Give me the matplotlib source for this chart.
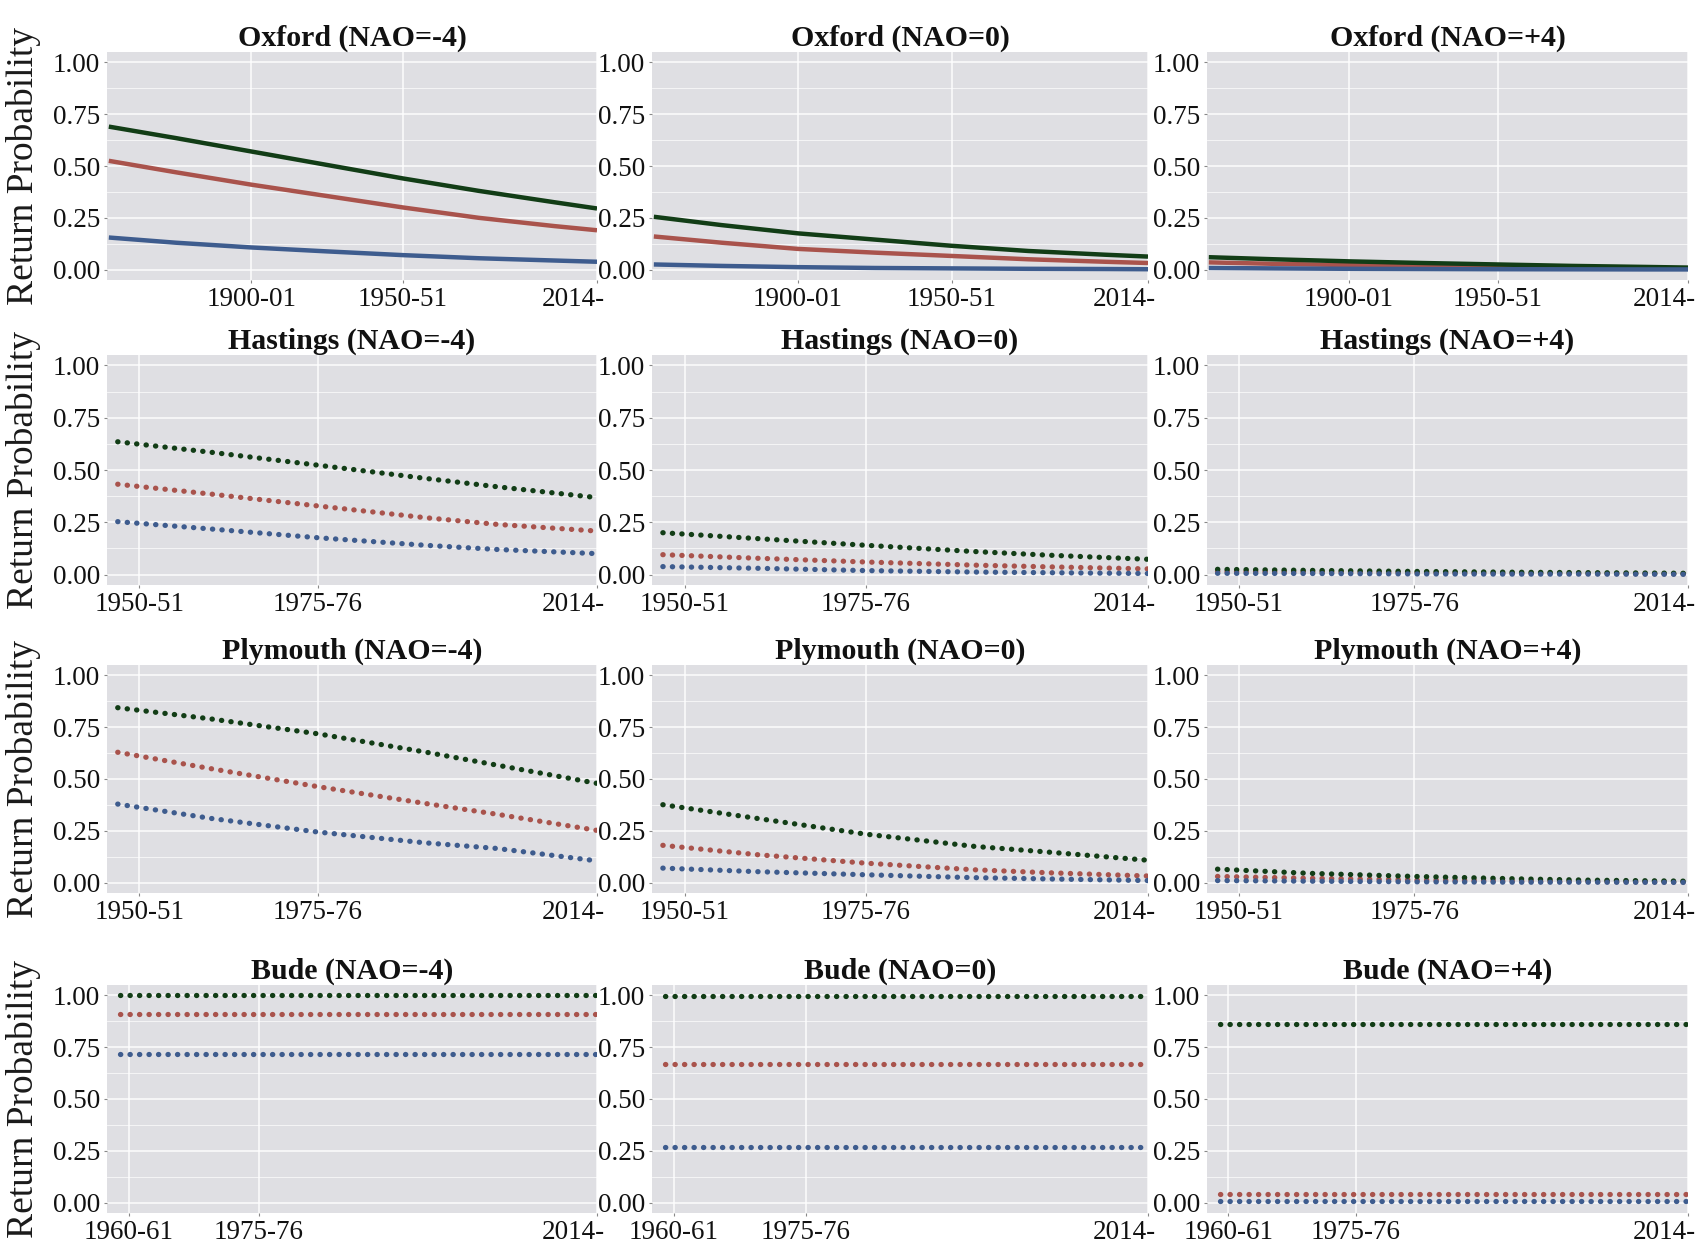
import matplotlib.pyplot as plt
import matplotlib.transforms as mtransforms
from matplotlib.ticker import MultipleLocator

plt.rcParams['font.family'] = ['Liberation Serif', 'DejaVu Serif']

W, H = 1705, 1247

# ---- data ----
nao_levels = ['-4', '0', '+4']
stations = ['Oxford', 'Hastings', 'Plymouth', 'Bude']

oxford_years = [1853, 1875, 1900, 1925, 1950, 1975, 2000, 2014]
oxford_m4_green = [0.69, 0.635, 0.57, 0.505, 0.44, 0.38, 0.325, 0.295]
oxford_m4_red = [0.525, 0.47, 0.41, 0.355, 0.30, 0.25, 0.21, 0.19]
oxford_m4_blue = [0.155, 0.13, 0.107, 0.088, 0.07, 0.055, 0.044, 0.038]
oxford_0_green = [0.255, 0.215, 0.175, 0.145, 0.115, 0.09, 0.072, 0.063]
oxford_0_red = [0.16, 0.13, 0.10, 0.082, 0.066, 0.05, 0.038, 0.032]
oxford_0_blue = [0.025, 0.018, 0.012, 0.008, 0.006, 0.004, 0.003, 0.002]
oxford_p4_green = [0.06, 0.05, 0.04, 0.032, 0.025, 0.018, 0.013, 0.01]
oxford_p4_red = [0.035, 0.028, 0.022, 0.017, 0.013, 0.009, 0.006, 0.005]
oxford_p4_blue = [0.008, 0.006, 0.004, 0.003, 0.002, 0.0015, 0.001, 0.001]

coast_years = [1947, 1960, 1975, 1990, 2000, 2014]
hastings_m4_green = [0.635, 0.585, 0.523, 0.46, 0.42, 0.368]
hastings_m4_red = [0.432, 0.385, 0.328, 0.272, 0.24, 0.208]
hastings_m4_blue = [0.253, 0.218, 0.176, 0.14, 0.12, 0.10]
hastings_0_green = [0.20, 0.172, 0.14, 0.11, 0.093, 0.073]
hastings_0_red = [0.095, 0.078, 0.06, 0.045, 0.037, 0.027]
hastings_0_blue = [0.038, 0.03, 0.019, 0.012, 0.009, 0.005]
hastings_p4_green = [0.025, 0.02, 0.015, 0.011, 0.009, 0.006]
hastings_p4_red = [0.015, 0.012, 0.009, 0.006, 0.005, 0.003]
hastings_p4_blue = [0.006, 0.005, 0.003, 0.002, 0.002, 0.001]

plymouth_m4_green = [0.844, 0.79, 0.718, 0.63, 0.567, 0.479]
plymouth_m4_red = [0.629, 0.55, 0.463, 0.382, 0.33, 0.252]
plymouth_m4_blue = [0.379, 0.31, 0.244, 0.192, 0.165, 0.105]
plymouth_0_green = [0.376, 0.31, 0.234, 0.175, 0.148, 0.108]
plymouth_0_red = [0.18, 0.135, 0.094, 0.062, 0.048, 0.032]
plymouth_0_blue = [0.07, 0.053, 0.038, 0.024, 0.018, 0.01]
plymouth_p4_green = [0.065, 0.045, 0.03, 0.018, 0.012, 0.007]
plymouth_p4_red = [0.03, 0.021, 0.013, 0.008, 0.005, 0.003]
plymouth_p4_blue = [0.01, 0.007, 0.004, 0.002, 0.002, 0.001]

bude_years = [1959, 2014]
bude_m4_green = [1.0, 1.0]
bude_m4_red = [0.91, 0.91]
bude_m4_blue = [0.715, 0.715]
bude_0_green = [0.995, 0.995]
bude_0_red = [0.667, 0.667]
bude_0_blue = [0.268, 0.268]
bude_p4_green = [0.86, 0.86]
bude_p4_red = [0.042, 0.042]
bude_p4_blue = [0.008, 0.008]

oxford_ticks = [1900, 1950, 2014]
oxford_ticklabels = ['1900-01', '1950-51', '2014-']
coast_ticks = [1950, 1975, 2014]
coast_ticklabels = ['1950-51', '1975-76', '2014-']
bude_ticks = [1960, 1975, 2014]
bude_ticklabels = ['1960-61', '1975-76', '2014-']

# ---- panel layout (pixels) ----
col_left = [107, 652, 1207]
col_right = [597, 1148, 1688]
row_top = [52, 355, 665, 985]
row_bot = [280, 585, 893, 1213]

green = '#123d16'
red = '#a9534c'
blue = '#3e5c8e'

station_info = {
    'Oxford': (oxford_years, (1852.4, 2014), oxford_ticks, oxford_ticklabels, '-',
               [(oxford_m4_green, oxford_m4_red, oxford_m4_blue),
                (oxford_0_green, oxford_0_red, oxford_0_blue),
                (oxford_p4_green, oxford_p4_red, oxford_p4_blue)]),
    'Hastings': (coast_years, (1945.5, 2014), coast_ticks, coast_ticklabels, ':',
                 [(hastings_m4_green, hastings_m4_red, hastings_m4_blue),
                  (hastings_0_green, hastings_0_red, hastings_0_blue),
                  (hastings_p4_green, hastings_p4_red, hastings_p4_blue)]),
    'Plymouth': (coast_years, (1945.5, 2014), coast_ticks, coast_ticklabels, ':',
                 [(plymouth_m4_green, plymouth_m4_red, plymouth_m4_blue),
                  (plymouth_0_green, plymouth_0_red, plymouth_0_blue),
                  (plymouth_p4_green, plymouth_p4_red, plymouth_p4_blue)]),
    'Bude': (bude_years, (1957.5, 2014), bude_ticks, bude_ticklabels, ':',
             [(bude_m4_green, bude_m4_red, bude_m4_blue),
              (bude_0_green, bude_0_red, bude_0_blue),
              (bude_p4_green, bude_p4_red, bude_p4_blue)]),
}

fig = plt.figure(figsize=(W / 100, H / 100), dpi=100)

for r, st in enumerate(stations):
    years, xlim, ticks, ticklabels, style, series = station_info[st]
    for c in range(3):
        l, rr = col_left[c], col_right[c]
        t, b = row_top[r], row_bot[r]
        ax = fig.add_axes([l / W, 1 - b / H, (rr - l) / W, (b - t) / H])
        ax.set_facecolor('#dfdfe3')
        for s in ax.spines.values():
            s.set_visible(False)

        g, rd, bl = series[c]
        for vals, col in [(rd, red), (g, green), (bl, blue)]:
            if style == '-':
                ax.plot(years, vals, color=col, lw=3.2, solid_capstyle='butt')
            else:
                ax.plot(years, vals, color=col, lw=3.8, linestyle=(0, (0.05, 1.75)),
                        dash_capstyle='round')

        ax.set_xlim(*xlim)
        ax.set_ylim(-0.05, 1.05)
        ax.set_yticks([0, 0.25, 0.5, 0.75, 1.0])
        ax.set_yticklabels(['0.00', '0.25', '0.50', '0.75', '1.00'])
        ax.yaxis.set_minor_locator(MultipleLocator(0.125))
        ax.set_xticks(ticks)
        ax.set_xticklabels(ticklabels)
        ax.tick_params(axis='both', which='major', labelsize=19.5, length=2.5, width=0.8,
                       color='#888888', labelcolor='#111111', pad=2.5)
        ax.tick_params(axis='y', which='minor', length=0)
        ax.grid(True, which='major', color='white', lw=1.1, alpha=0.9)
        ax.grid(True, which='minor', axis='y', color='white', lw=0.6, alpha=0.8)
        ax.set_axisbelow(True)

        lab = ax.get_xticklabels()[-1]
        lab.set_ha('right')
        lab.set_transform(lab.get_transform() +
                          mtransforms.ScaledTranslation(8 / 100, 0, fig.dpi_scale_trans))

        ax.set_title(f'{st} (NAO={nao_levels[c]})', fontsize=21.5, fontweight='bold',
                     pad=4, color='#111111')

    fig.text(24 / W, 1 - (row_top[r] + row_bot[r]) / 2 / H, 'Return Probability',
             rotation=90, ha='center', va='center', fontsize=27, color='#1a1a1a')

fig.savefig('out.png', dpi=100, facecolor='white')
